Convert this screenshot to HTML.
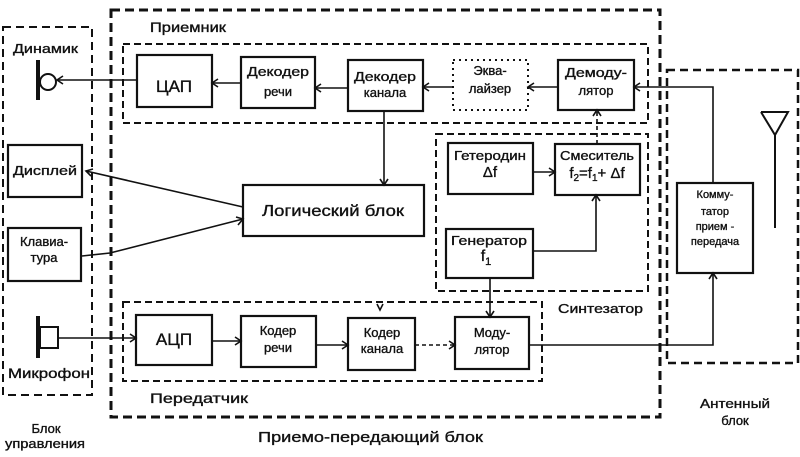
<!DOCTYPE html>
<html><head><meta charset="utf-8"><style>
html,body{margin:0;padding:0;background:#fff;}
svg{display:block;}
text{font-family:"Liberation Sans","DejaVu Sans",sans-serif;fill:#111;stroke:#111;stroke-width:0.35;}
</style></head><body>
<svg width="800" height="457" viewBox="0 0 800 457" xmlns="http://www.w3.org/2000/svg">
<rect width="800" height="457" fill="#fff"/>
<g fill="none" stroke="#111">
<!-- outer dashed boxes -->
<rect x="111" y="10" width="549" height="407" stroke-width="3" stroke-dasharray="9 5"/>
<rect x="3" y="27" width="89" height="368" stroke-width="2" stroke-dasharray="8 5"/>
<rect x="667" y="70" width="131" height="293" stroke-width="2.5" stroke-dasharray="8 5"/>
<!-- inner dashed -->
<rect x="123" y="44" width="525" height="79" stroke-width="2" stroke-dasharray="7 4"/>
<rect x="436" y="134" width="212" height="157" stroke-width="2" stroke-dasharray="7 4"/>
<rect x="123" y="302" width="419" height="79" stroke-width="2" stroke-dasharray="7 4"/>
<!-- solid boxes -->
<g stroke-width="2.2">
<rect x="137" y="55" width="75" height="52"/>
<rect x="241" y="57" width="74" height="51"/>
<rect x="348" y="60" width="75" height="51"/>
<rect x="558" y="60" width="76" height="50"/>
<rect x="8" y="145" width="74" height="52"/>
<rect x="8" y="228" width="73" height="53"/>
<rect x="243" y="185" width="181" height="51"/>
<rect x="448" y="143" width="85" height="51"/>
<rect x="555" y="144" width="85" height="51"/>
<rect x="446" y="229" width="87" height="49"/>
<rect x="136" y="315" width="76" height="50"/>
<rect x="241" y="316" width="75" height="51"/>
<rect x="348" y="318" width="67" height="52"/>
<rect x="455" y="317" width="74" height="52"/>
<rect x="677" y="183" width="76" height="90"/>
</g>
<rect x="453" y="60" width="75" height="50" stroke-width="2" stroke-dasharray="2 4"/>
<!-- speaker -->
<line x1="38" y1="60" x2="38" y2="100" stroke-width="4"/>
<circle cx="48" cy="82" r="8" stroke-width="2"/>
<!-- microphone -->
<line x1="38" y1="316" x2="38" y2="358" stroke-width="4"/>
<rect x="40" y="327" width="18" height="21" stroke-width="2"/>
<!-- antenna -->
<polyline points="761,112 788,112 775,135 761,112" stroke-width="2"/>
<line x1="775" y1="135" x2="775" y2="228" stroke-width="2"/>
<!-- connectors -->
<g stroke-width="1.6">
<line x1="137" y1="80" x2="57" y2="80"/>
<polyline points="63,76 57,80 63,84"/>
<line x1="241" y1="83" x2="212" y2="83"/>
<polyline points="218,79 212,83 218,87"/>
<line x1="348" y1="88" x2="315" y2="88"/>
<polyline points="321,84 315,88 321,92"/>
<line x1="453" y1="87" x2="423" y2="87"/>
<polyline points="429,83 423,87 429,91"/>
<line x1="558" y1="87" x2="528" y2="87"/>
<polyline points="534,83 528,87 534,91"/>
<polyline points="713,183 713,87 634,87"/>
<polyline points="640,83 634,87 640,91"/>
<line x1="597" y1="144" x2="597" y2="110" stroke-dasharray="4 3"/>
<polyline points="593,116 597,110 601,116"/>
<line x1="384" y1="111" x2="384" y2="185"/>
<polyline points="380,179 384,185 388,179"/>
<line x1="243" y1="207" x2="86" y2="171"/>
<polyline points="93,169 86,171 91,176"/>
<polyline points="82,256 110,253 243,219"/>
<polyline points="236,217 243,219 238,225"/>
<line x1="533" y1="172" x2="555" y2="172"/>
<polyline points="549,168 555,172 549,176"/>
<polyline points="533,251 596,251 596,195"/>
<polyline points="592,201 596,195 600,201"/>
<line x1="490" y1="278" x2="490" y2="317"/>
<polyline points="486,311 490,317 494,311"/>
<line x1="58" y1="338" x2="136" y2="338"/>
<polyline points="130,334 136,338 130,342"/>
<line x1="212" y1="341" x2="241" y2="341"/>
<polyline points="235,337 241,341 235,345"/>
<line x1="316" y1="345" x2="348" y2="345"/>
<polyline points="342,341 348,345 342,349"/>
<line x1="415" y1="345" x2="455" y2="345" stroke-dasharray="4 3"/>
<polyline points="449,341 455,345 449,349"/>
<polyline points="377,304 380,310 383,304"/>
<polyline points="529,345 713,345 713,273"/>
<polyline points="709,279 713,273 717,279"/>
</g>
</g>
<!-- labels -->
<g font-size="13">
<text x="150" y="32" font-size="14" textLength="76" lengthAdjust="spacingAndGlyphs">Приемник</text>
<text x="13" y="53" textLength="65" lengthAdjust="spacingAndGlyphs">Динамик</text>
<text x="174" y="92" font-size="17" text-anchor="middle">ЦАП</text>
<text x="278" y="76" text-anchor="middle" textLength="62" lengthAdjust="spacingAndGlyphs">Декодер</text>
<text x="278" y="96" text-anchor="middle">речи</text>
<text x="385" y="81" text-anchor="middle" textLength="62" lengthAdjust="spacingAndGlyphs">Декодер</text>
<text x="385" y="97" text-anchor="middle">канала</text>
<text x="490" y="75" text-anchor="middle">Эква-</text>
<text x="490" y="93" text-anchor="middle">лайзер</text>
<text x="596" y="77" text-anchor="middle" textLength="62" lengthAdjust="spacingAndGlyphs">Демоду-</text>
<text x="596" y="95" text-anchor="middle">лятор</text>
<text x="45" y="175" text-anchor="middle" textLength="64" lengthAdjust="spacingAndGlyphs">Дисплей</text>
<text x="44" y="246" text-anchor="middle">Клавиа-</text>
<text x="44" y="262" text-anchor="middle">тура</text>
<text x="333" y="216" font-size="16" text-anchor="middle" textLength="142" lengthAdjust="spacingAndGlyphs">Логический блок</text>
<text x="490" y="160" text-anchor="middle" textLength="72" lengthAdjust="spacingAndGlyphs">Гетеродин</text>
<text x="490" y="177" font-size="15" text-anchor="middle">Δf</text>
<text x="597" y="160" text-anchor="middle" textLength="74" lengthAdjust="spacingAndGlyphs">Смеситель</text>
<text x="597" y="178" font-size="15" text-anchor="middle">f<tspan font-size="10" dy="3">2</tspan><tspan dy="-3">=f</tspan><tspan font-size="10" dy="3">1</tspan><tspan dy="-3">+ Δf</tspan></text>
<text x="489" y="245" text-anchor="middle" textLength="76" lengthAdjust="spacingAndGlyphs">Генератор</text>
<text x="486" y="261" font-size="16" text-anchor="middle">f<tspan font-size="11" dy="4">1</tspan></text>
<text x="558" y="313" textLength="85" lengthAdjust="spacingAndGlyphs">Синтезатор</text>
<text x="174" y="345" font-size="17" text-anchor="middle">АЦП</text>
<text x="278" y="335" text-anchor="middle">Кодер</text>
<text x="278" y="352" text-anchor="middle">речи</text>
<text x="382" y="337" text-anchor="middle">Кодер</text>
<text x="382" y="353" text-anchor="middle">канала</text>
<text x="492" y="337" text-anchor="middle">Моду-</text>
<text x="492" y="354" text-anchor="middle">лятор</text>
<text x="8" y="378" font-size="14" textLength="82" lengthAdjust="spacingAndGlyphs">Микрофон</text>
<text x="150" y="403" font-size="14" textLength="98" lengthAdjust="spacingAndGlyphs">Передатчик</text>
<text x="46" y="433" text-anchor="middle">Блок</text>
<text x="45" y="448" text-anchor="middle" textLength="80" lengthAdjust="spacingAndGlyphs">управления</text>
<text x="258" y="442" font-size="15" textLength="225" lengthAdjust="spacingAndGlyphs">Приемо-передающий блок</text>
<text x="735" y="408" text-anchor="middle" textLength="70" lengthAdjust="spacingAndGlyphs">Антенный</text>
<text x="735" y="425" text-anchor="middle">блок</text>
<g font-size="11">
<text x="715" y="198" text-anchor="middle">Комму-</text>
<text x="715" y="215" text-anchor="middle">татор</text>
<text x="715" y="230" text-anchor="middle">прием -</text>
<text x="715" y="245" text-anchor="middle">передача</text>
</g>
</g>
</svg>
</body></html>
